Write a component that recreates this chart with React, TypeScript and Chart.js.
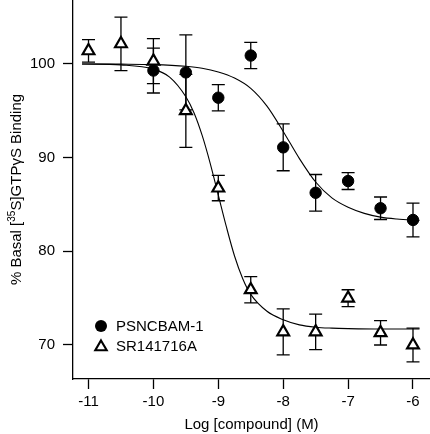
import React, { useEffect, useRef } from "react";
import { Chart, registerables } from "chart.js";

Chart.register(...registerables);

// ---- axis ticks ----
const xTicks = [-11, -10, -9, -8, -7, -6];
const xTickLabels = ["-11", "-10", "-9", "-8", "-7", "-6"];
const yTicks = [70, 80, 90, 100];
const yTickLabels = ["70", "80", "90", "100"];

// ---- PSNCBAM-1 (filled circles) ----
const psnDoses = [-10, -9.5, -9, -8.5, -8, -7.5, -7, -6.5, -6];
const psnMean = [99.3, 99.1, 96.4, 100.9, 91.1, 86.25, 87.5, 84.6, 83.35];
const psnSem = [2.4, 4.0, 1.4, 1.4, 2.5, 1.95, 0.9, 1.2, 1.8];

// ---- SR141716A (open triangles) ----
const srDoses = [-11, -10.5, -10, -9.5, -9, -8.5, -8, -7.5, -7, -6.5, -6];
const srMean = [101.4, 102.15, 100.3, 95.0, 86.75, 75.9, 71.4, 71.4, 75.0, 71.3, 70.0];
const srSem = [1.2, 2.85, 2.4, 3.9, 1.35, 1.4, 2.45, 1.9, 0.9, 1.3, 1.8];

// ---- fitted curves ----
const psnFitX = [-11.1, -10.5, -10, -9.5, -9.25, -9.0, -8.75, -8.5, -8.25, -8.0, -7.75, -7.5, -7.25, -7.0, -6.75, -6.5, -6.25, -5.9];
const psnFitY = [100.0, 99.98, 99.93, 99.75, 99.55, 99.15, 98.5, 97.4, 95.5, 92.8, 89.9, 87.4, 85.7, 84.7, 84.05, 83.65, 83.45, 83.3];
const srFitX = [-11.1, -10.5, -10, -9.75, -9.5, -9.375, -9.25, -9.125, -9.0, -8.875, -8.75, -8.625, -8.5, -8.25, -8.0, -7.75, -7.5, -7.25, -7.0, -6.5, -5.9];
const srFitY = [100.0, 99.9, 99.45, 98.6, 96.5, 94.8, 92.4, 89.4, 86.0, 82.6, 79.5, 77.1, 75.4, 73.6, 72.7, 72.15, 71.9, 71.8, 71.75, 71.7, 71.7];

const legendLabels = ["PSNCBAM-1", "SR141716A"];
const xTitle = "Log [compound] (M)";
const yTitleParts = ["% Basal [", "35", "S]GTPγS Binding"];

const FONT = '"Liberation Sans", Arial, Helvetica, sans-serif';

function zip(xs: number[], ys: number[]) {
  return xs.map((x, i) => ({ x, y: ys[i] }));
}

function triPath(ctx: CanvasRenderingContext2D, x: number, y: number, r: number) {
  let rad = 0;
  ctx.beginPath();
  ctx.moveTo(x + Math.sin(rad) * r, y - Math.cos(rad) * r);
  rad += (2 * Math.PI) / 3;
  ctx.lineTo(x + Math.sin(rad) * r, y - Math.cos(rad) * r);
  rad += (2 * Math.PI) / 3;
  ctx.lineTo(x + Math.sin(rad) * r, y - Math.cos(rad) * r);
  ctx.closePath();
}

export default function App() {
  const ref = useRef<HTMLCanvasElement>(null);

  useEffect(() => {
    if (!ref.current) return;

    const errorBars = {
      id: "errorBars",
      beforeDatasetsDraw(chart: any) {
        const ctx = chart.ctx;
        const ys = chart.scales.y;
        chart.data.datasets.forEach((ds: any, i: number) => {
          if (!ds.errors) return;
          const meta = chart.getDatasetMeta(i);
          meta.data.forEach((pt: any, j: number) => {
            const m = ds.data[j].y;
            const e = ds.errors[j];
            const top = ys.getPixelForValue(m + e);
            const bot = ys.getPixelForValue(m - e);
            const x = pt.x;
            ctx.save();
            ctx.strokeStyle = "#000";
            ctx.lineWidth = 1.3;
            ctx.beginPath();
            ctx.moveTo(x, top);
            ctx.lineTo(x, bot);
            ctx.moveTo(x - 6.5, top);
            ctx.lineTo(x + 6.5, top);
            ctx.moveTo(x - 6.5, bot);
            ctx.lineTo(x + 6.5, bot);
            ctx.stroke();
            ctx.restore();
          });
        });
      },
    };

    const extras = {
      id: "extras",
      afterDraw(chart: any) {
        const ctx = chart.ctx;
        const area = chart.chartArea;
        ctx.save();
        // y title with superscript
        const big = `15px ${FONT}`;
        const small = `10px ${FONT}`;
        ctx.font = big;
        const w0 = ctx.measureText(yTitleParts[0]).width;
        const w2 = ctx.measureText(yTitleParts[2]).width;
        ctx.font = small;
        const w1 = ctx.measureText(yTitleParts[1]).width;
        const total = w0 + w1 + w2;
        const cy = (area.top + area.bottom) / 2;
        ctx.translate(17, cy);
        ctx.rotate(-Math.PI / 2);
        ctx.fillStyle = "#000";
        ctx.textBaseline = "middle";
        ctx.textAlign = "left";
        let sx = -total / 2;
        ctx.font = big;
        ctx.fillText(yTitleParts[0], sx, 0);
        sx += w0;
        ctx.font = small;
        ctx.fillText(yTitleParts[1], sx, -5);
        sx += w1;
        ctx.font = big;
        ctx.fillText(yTitleParts[2], sx, 0);
        ctx.restore();

        // legend
        ctx.save();
        const lx = area.left + 28;
        const ly1 = area.bottom - 53;
        const ly2 = area.bottom - 33;
        ctx.fillStyle = "#000";
        ctx.beginPath();
        ctx.arc(lx, ly1, 6, 0, Math.PI * 2);
        ctx.fill();
        triPath(ctx, lx, ly2 + 1, 6.6);
        ctx.fillStyle = "#fff";
        ctx.fill();
        ctx.strokeStyle = "#000";
        ctx.lineWidth = 2.1;
        ctx.stroke();
        ctx.fillStyle = "#000";
        ctx.font = big;
        ctx.textBaseline = "middle";
        ctx.textAlign = "left";
        ctx.fillText(legendLabels[0], area.left + 43, ly1 + 0.5);
        ctx.fillText(legendLabels[1], area.left + 43, ly2 + 0.5);
        ctx.restore();
      },
    };

    const tickFont = { family: FONT, size: 15 };

    const chart = new Chart(ref.current, {
      type: "scatter",
      data: {
        datasets: [
          {
            label: legendLabels[0],
            data: zip(psnDoses, psnMean),
            errors: psnSem,
            pointStyle: "circle",
            pointRadius: 5.7,
            pointBackgroundColor: "#000",
            pointBorderColor: "#000",
            pointBorderWidth: 1,
            showLine: false,
          } as any,
          {
            label: legendLabels[1],
            data: zip(srDoses, srMean),
            errors: srSem,
            pointStyle: "triangle",
            pointRadius: 6.8,
            pointBackgroundColor: "#fff",
            pointBorderColor: "#000",
            pointBorderWidth: 2.2,
            showLine: false,
          } as any,
          {
            label: "psn fit",
            data: zip(psnFitX, psnFitY),
            showLine: true,
            pointRadius: 0,
            borderColor: "#000",
            borderWidth: 1.1,
            cubicInterpolationMode: "monotone",
          } as any,
          {
            label: "sr fit",
            data: zip(srFitX, srFitY),
            showLine: true,
            pointRadius: 0,
            borderColor: "#000",
            borderWidth: 1.1,
            cubicInterpolationMode: "monotone",
          } as any,
        ],
      },
      options: {
        responsive: false,
        animation: false,
        devicePixelRatio: 1,
        layout: { padding: 0, autoPadding: false },
        plugins: {
          legend: { display: false },
          tooltip: { enabled: false },
        },
        scales: {
          x: {
            type: "linear",
            position: "bottom",
            min: -11.239,
            max: -5.738,
            afterBuildTicks: (s: any) => {
              s.ticks = xTicks.map((v) => ({ value: v }));
            },
            afterFit: (s: any) => {
              s.height = 55;
              s.paddingLeft = 0;
              s.paddingRight = 0;
              s.paddingTop = 0;
              s.paddingBottom = 0;
            },
            ticks: {
              color: "#000",
              font: tickFont,
              padding: 4,
              maxRotation: 0,
              autoSkip: false,
              callback: (v: any) => {
                const i = xTicks.indexOf(Number(v));
                return i >= 0 ? xTickLabels[i] : "";
              },
            },
            grid: {
              display: true,
              drawOnChartArea: false,
              drawTicks: true,
              tickLength: 10,
              tickColor: "#000",
              tickWidth: 1.3,
            },
            border: { display: true, color: "#000", width: 1.3 },
            title: {
              display: true,
              text: xTitle,
              color: "#000",
              font: { family: FONT, size: 15 },
              padding: { top: 0, bottom: 0 },
            },
          },
          y: {
            type: "linear",
            min: 66.37,
            max: 106.83,
            afterBuildTicks: (s: any) => {
              s.ticks = yTicks.map((v) => ({ value: v }));
            },
            afterFit: (s: any) => {
              s.width = 73;
              s.paddingLeft = 0;
              s.paddingRight = 0;
              s.paddingTop = 0;
              s.paddingBottom = 0;
            },
            ticks: {
              color: "#000",
              font: tickFont,
              padding: 8,
              autoSkip: false,
              callback: (v: any) => {
                const i = yTicks.indexOf(Number(v));
                return i >= 0 ? yTickLabels[i] : "";
              },
            },
            grid: {
              display: true,
              drawOnChartArea: false,
              drawTicks: true,
              tickLength: 10,
              tickColor: "#000",
              tickWidth: 1.3,
            },
            border: { display: true, color: "#000", width: 1.3 },
          },
        },
      },
      plugins: [errorBars, extras],
    } as any);

    return () => chart.destroy();
  }, []);

  return (
    <div style={{ position: "fixed", left: 0, top: 0, width: 430, height: 434, background: "#fff" }}>
      <canvas ref={ref} width={430} height={434} style={{ display: "block" }} />
    </div>
  );
}
